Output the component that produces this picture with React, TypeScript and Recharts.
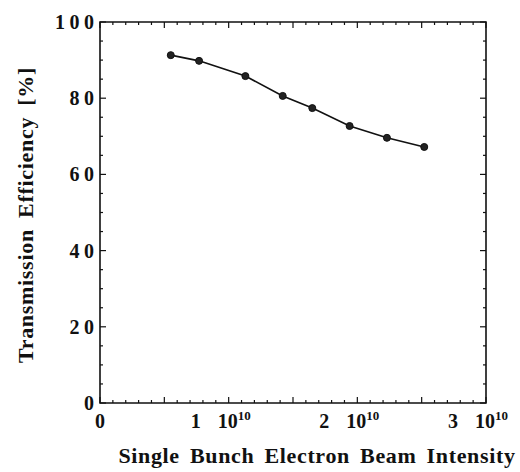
import { LineChart, Line, XAxis, YAxis, ReferenceArea } from "recharts";

// beam intensity in units of 1e10, efficiency in %
const intensity = [0.55, 0.77, 1.13, 1.42, 1.65, 1.94, 2.23, 2.52];
const efficiency = [91.3, 89.8, 85.8, 80.6, 77.4, 72.7, 69.6, 67.2];

const xTicks = Array.from({ length: 31 }, (_, i) => i / 10);
const yTicks = Array.from({ length: 21 }, (_, i) => i * 5);
const xTickLabels: Record<number, string> = { 1: "1", 2: "2", 3: "3" };

const data = intensity.map((x, i) => ({ x, y: efficiency[i] }));

const font = '"Liberation Serif", "Times New Roman", serif';
const ink = "#111";

const isStep = (v: number, step: number) => Math.abs(v / step - Math.round(v / step)) < 1e-6;

const labelStyle = { fontFamily: font, fontWeight: "bold" as const, fontSize: 20, fill: ink };

// side: which edge of the frame the tick sits on; ticks point into the plot
const makeXTick = (side: "bottom" | "top") => (props: any) => {
  const { x, y, payload } = props;
  const v = payload.value as number;
  const len = isStep(v, 0.5) ? 6 : 3;
  const dir = side === "bottom" ? -1 : 1;
  const showLabel = side === "bottom" && isStep(v, 1);
  const mult = xTickLabels[Math.round(v)];
  return (
    <g>
      <line x1={x} y1={y} x2={x} y2={y + dir * len} stroke={ink} strokeWidth={1.2} />
      {showLabel && !mult && (
        <text x={x} y={y + 25} textAnchor="middle" {...labelStyle}>
          0
        </text>
      )}
      {showLabel && mult && (
        <text x={x - 28} y={y + 25} textAnchor="end" {...labelStyle}>
          {mult}
        </text>
      )}
      {showLabel && mult && (
        <text x={x - 11} y={y + 25} textAnchor="start" {...labelStyle}>
          10
          <tspan dy={-8} fontSize={13}>
            10
          </tspan>
        </text>
      )}
    </g>
  );
};

const makeYTick = (side: "left" | "right") => (props: any) => {
  const { x, y, payload } = props;
  const v = payload.value as number;
  const len = isStep(v, 20) ? 6 : 3;
  const dir = side === "left" ? 1 : -1;
  const showLabel = side === "left" && isStep(v, 20);
  return (
    <g>
      <line x1={x} y1={y} x2={x + dir * len} y2={y} stroke={ink} strokeWidth={1.2} />
      {showLabel && (
        <text x={x - 1.5} y={y} dy="0.35em" textAnchor="end" letterSpacing={4.5} {...labelStyle}>
          {v}
        </text>
      )}
    </g>
  );
};

const BottomTick = makeXTick("bottom");
const TopTick = makeXTick("top");
const LeftTick = makeYTick("left");
const RightTick = makeYTick("right");

const titleStyle = { fontFamily: font, fontWeight: "bold" as const, fontSize: 22, fill: ink };

export default function App() {
  return (
    <div style={{ position: "absolute", left: 0, top: 0 }}>
      <LineChart width={520} height={472} data={data} margin={{ top: 21, right: 33, left: 0, bottom: 0 }}>
        <XAxis
          xAxisId="main"
          dataKey="x"
          type="number"
          domain={[0, 3]}
          allowDataOverflow
          ticks={xTicks}
          interval={0}
          height={69}
          tickSize={0}
          tickMargin={0}
          tickLine={false}
          axisLine={false}
          tick={<BottomTick />}
          label={{
            content: () => (
              <text x={317} y={463} textAnchor="middle" letterSpacing={0.65} wordSpacing={4} {...titleStyle}>
                Single Bunch Electron Beam Intensity
              </text>
            ),
          }}
        />
        <XAxis
          xAxisId="top"
          dataKey="x"
          type="number"
          orientation="top"
          domain={[0, 3]}
          allowDataOverflow
          ticks={xTicks}
          interval={0}
          height={1}
          tickSize={0}
          tickMargin={0}
          tickLine={false}
          axisLine={false}
          tick={<TopTick />}
        />
        <YAxis
          yAxisId="main"
          type="number"
          domain={[0, 100]}
          allowDataOverflow
          ticks={yTicks}
          interval={0}
          width={100}
          tickSize={0}
          tickMargin={0}
          tickLine={false}
          axisLine={false}
          tick={<LeftTick />}
          label={{
            content: () => (
              <text
                x={33}
                y={215}
                textAnchor="middle"
                transform="rotate(-90, 33, 215)"
                letterSpacing={0.7}
                wordSpacing={5}
                {...titleStyle}
              >
                Transmission Efficiency [%]
              </text>
            ),
          }}
        />
        <YAxis
          yAxisId="right"
          type="number"
          orientation="right"
          domain={[0, 100]}
          allowDataOverflow
          ticks={yTicks}
          interval={0}
          width={1}
          tickSize={0}
          tickMargin={0}
          tickLine={false}
          axisLine={false}
          tick={<RightTick />}
        />
        <ReferenceArea
          xAxisId="main"
          yAxisId="main"
          x1={0}
          x2={3}
          y1={0}
          y2={100}
          fill="none"
          stroke={ink}
          strokeWidth={1.6}
          fillOpacity={0}
        />
        <Line
          xAxisId="main"
          yAxisId="main"
          dataKey="y"
          type="linear"
          stroke={ink}
          strokeWidth={1.6}
          dot={{ r: 3.5, fill: "#222", stroke: ink, strokeWidth: 1 }}
          isAnimationActive={false}
        />
      </LineChart>
    </div>
  );
}
